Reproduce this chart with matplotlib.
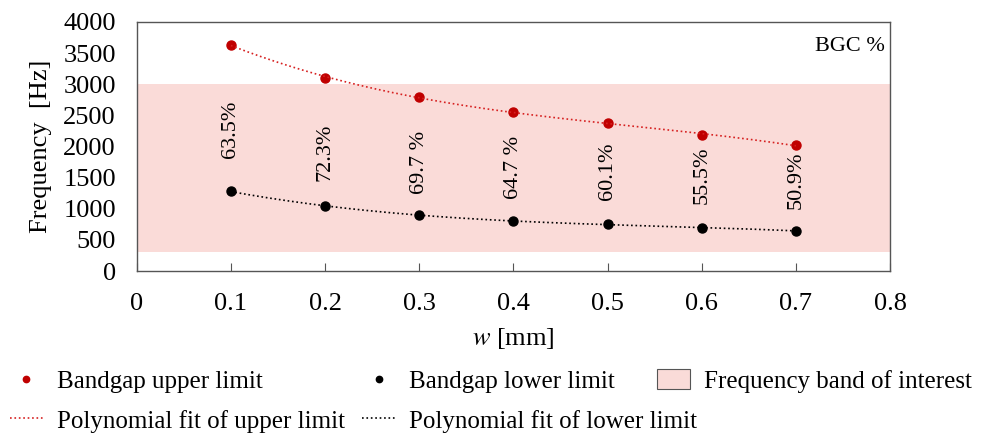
import matplotlib.pyplot as plt
import matplotlib as mpl
import numpy as np

mpl.rcParams.update({'font.family': 'Liberation Serif', 'font.size': 18,
                     'mathtext.fontset': 'stix'})

w = [0.1, 0.2, 0.3, 0.4, 0.5, 0.6, 0.7]
upper = [3630, 3100, 2790, 2560, 2370, 2190, 2020]
lower = [1280, 1040, 900, 810, 750, 690, 650]
bgc = ["63.5%", "72.3%", "69.7 %", "64.7 %", "60.1%", "55.5%", "50.9%"]
label_y = [2270, 1900, 1750, 1660, 1600, 1540, 1460]
band = (300, 3000)

fig = plt.figure(figsize=(9.84, 4.38), dpi=100)
ax = fig.add_axes([0.139, 0.381, 0.7655, 0.569])

ax.axhspan(band[0], band[1], color='#fadbd8', lw=0, zorder=0)

xs = np.linspace(w[0], w[-1], 200)
pu = np.polyfit(w, upper, 3)
pl = np.polyfit(w, lower, 3)

h_up, = ax.plot(w, upper, 'o', color='#c00000', ms=6.5, label='Bandgap upper limit')
h_upfit, = ax.plot(xs, np.polyval(pu, xs), ':', color='#d62020', lw=1.2,
                   label='Polynomial fit of upper limit')
h_lo, = ax.plot(w, lower, 'o', color='black', ms=6.5, label='Bandgap lower limit')
h_lofit, = ax.plot(xs, np.polyval(pl, xs), ':', color='black', lw=1.2,
                   label='Polynomial fit of lower limit')
h_band = mpl.patches.Patch(facecolor='#fadbd8', edgecolor='#555555', lw=0.8,
                           label='Frequency band of interest')

for x, t, y in zip(w, bgc, label_y):
    ax.text(x, y, t, rotation=90, ha='center', va='center', fontsize=16)

ax.text(0.795, 3600, 'BGC %', ha='right', va='center', fontsize=16)

ax.set_xlim(0, 0.8)
ax.set_ylim(0, 4000)
ax.set_xticks(np.arange(0, 0.81, 0.1))
ax.set_xticklabels(['0', '0.1', '0.2', '0.3', '0.4', '0.5', '0.6', '0.7', '0.8'])
ax.set_yticks(np.arange(0, 4001, 500))
ax.tick_params(axis='x', direction='in', length=6, color='#555555', pad=16, labelsize=19)
ax.tick_params(axis='y', length=0, pad=15, labelsize=19)
for s in ax.spines.values():
    s.set_color('#555555')
    s.set_linewidth(1.0)

ax.set_xlabel('$\\mathit{w}$ [mm]', labelpad=8, fontsize=19)
ax.set_ylabel('Frequency  [Hz]', labelpad=8, fontsize=19)

# legend entries placed one by one, like the original layout
spots = [(h_up, 0.010, 0.130), (h_upfit, 0.010, 0.039),
         (h_lo, 0.368, 0.130), (h_lofit, 0.368, 0.039),
         (h_band, 0.668, 0.130)]
for h, lx, ly in spots:
    fig.legend(handles=[h], loc='center left', bbox_to_anchor=(lx, ly),
               frameon=False, fontsize=18, handlelength=1.32, handletextpad=0.56,
               handleheight=0.8, markerscale=0.7, borderpad=0, borderaxespad=0)

fig.savefig('out.png', dpi=100)
